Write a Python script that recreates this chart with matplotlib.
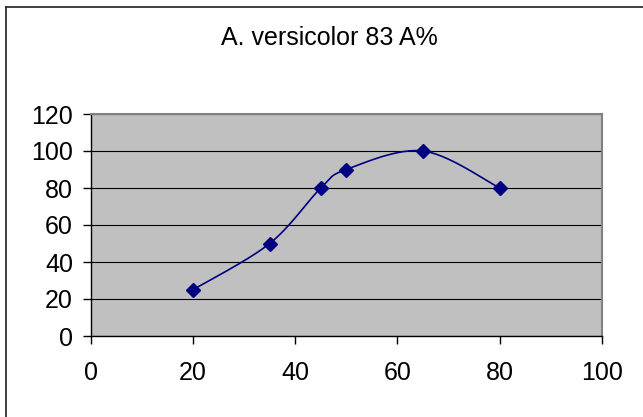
import numpy as np
import matplotlib.pyplot as plt
from matplotlib.lines import Line2D

# data
x_vals = [20, 35, 45, 50, 65, 80]
y_vals = [25, 50, 80, 90, 100, 80]
x_ticks = [0, 20, 40, 60, 80, 100]
y_ticks = [0, 20, 40, 60, 80, 100, 120]
title = "A. versicolor 83 A%"


def excel_smooth(xs, ys, n=30):
    # Excel-like smoothed line: cubic bezier through points, tension 1/6
    pts = np.column_stack([xs, ys]).astype(float)
    out = []
    for i in range(len(pts) - 1):
        p0 = pts[i - 1] if i > 0 else pts[i]
        p1 = pts[i]
        p2 = pts[i + 1]
        p3 = pts[i + 2] if i + 2 < len(pts) else pts[i + 1]
        c1 = p1 + (p2 - p0) / 6.0
        c2 = p2 - (p3 - p1) / 6.0
        t = np.linspace(0, 1, n)[:, None]
        seg = ((1 - t) ** 3) * p1 + 3 * ((1 - t) ** 2) * t * c1 + \
            3 * (1 - t) * t ** 2 * c2 + t ** 3 * p2
        out.append(seg if i == 0 else seg[1:])
    out = np.vstack(out)
    return out[:, 0], out[:, 1]


plt.rcParams['font.family'] = ['Liberation Sans', 'DejaVu Sans']
fsize = 18

W, H = 643.0, 417.0
fig = plt.figure(figsize=(W / 100, H / 100), dpi=100)

# chart area frame (only left and top edges are inside the picture)
fig.add_artist(Line2D([5.5 / W, 5.5 / W], [0, 1 - 7 / H],
                      transform=fig.transFigure, color="#202020",
                      linewidth=1.2))
fig.add_artist(Line2D([5.5 / W, 1], [1 - 7 / H, 1 - 7 / H],
                      transform=fig.transFigure, color="#202020",
                      linewidth=1.2))

ax = fig.add_axes([90.7 / W, 1 - 336 / H, 511.3 / W, 222 / H])
ax.set_facecolor("#C0C0C0")

sx, sy = excel_smooth(x_vals, y_vals)
ax.plot(sx, sy, color="#000080", linewidth=1.2, zorder=3)
ax.plot(x_vals, y_vals, linestyle="none", marker="D", markersize=7.6,
        color="#000080", zorder=4)

ax.set_xlim(0, 100)
ax.set_ylim(0, 120)
ax.set_xticks(x_ticks)
ax.set_yticks(y_ticks)
ax.tick_params(labelsize=fsize, direction="out", length=5.8, width=1,
               color="black")
ax.tick_params(axis="y", pad=7)
ax.tick_params(axis="x", pad=12)
ax.yaxis.grid(True, color="black", linewidth=0.8)
ax.set_axisbelow(True)

for side in ["top", "right"]:
    ax.spines[side].set_color("#808080")
    ax.spines[side].set_linewidth(1.5)
for side in ["left", "bottom"]:
    ax.spines[side].set_color("black")
    ax.spines[side].set_linewidth(1)

fig.text(329 / W, 1 - 38 / H, title, ha="center", va="center",
         fontsize=fsize)

fig.savefig("out.png", dpi=100)
